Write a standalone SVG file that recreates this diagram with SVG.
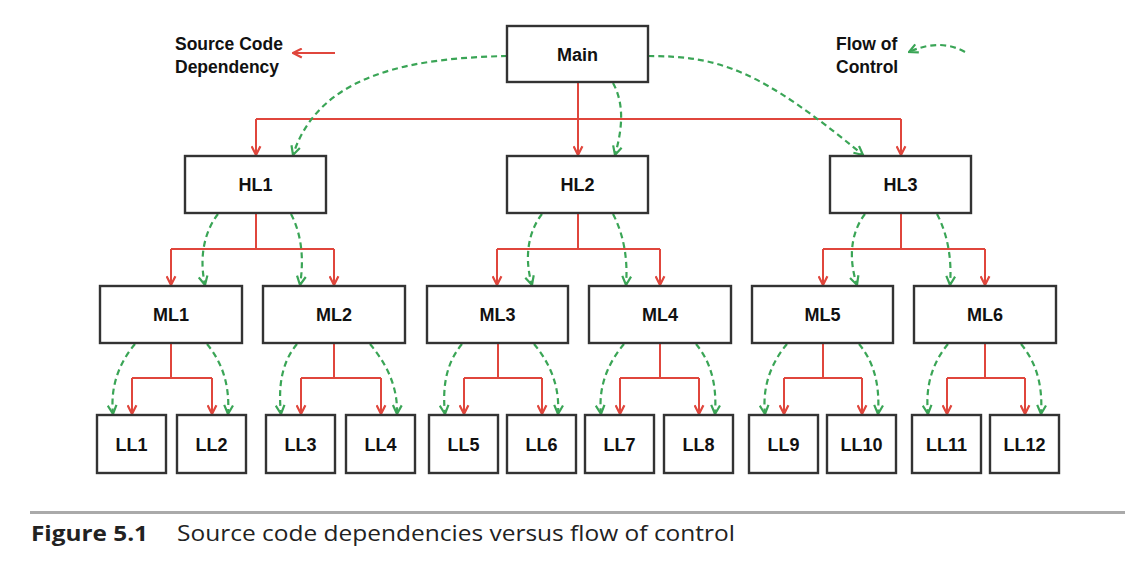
<svg xmlns="http://www.w3.org/2000/svg" width="1134" height="584" viewBox="0 0 1134 584">
<defs>
<style>
.box{fill:#fff;stroke:#333;stroke-width:2.4}
.lbl{font-family:"Liberation Sans",Arial,sans-serif;font-weight:bold;font-size:18px;fill:#111;text-anchor:middle}
.leg{font-family:"Liberation Sans",Arial,sans-serif;font-weight:bold;font-size:17.5px;fill:#111}
.dep{fill:none;stroke:#e0463c;stroke-width:2;marker-end:url(#ar)}
.depl{fill:none;stroke:#e0463c;stroke-width:2}
.flow{fill:none;stroke:#3aa556;stroke-width:2.2;stroke-dasharray:6 4;marker-end:url(#ag)}
.cap{font-family:"Open Sans",Lato,sans-serif;font-size:21px;fill:#222}
</style>
<marker id="ar" viewBox="0 0 10 10" refX="9" refY="5" markerWidth="11" markerHeight="11" markerUnits="userSpaceOnUse" orient="auto">
<path d="M1,1 L9,5 L1,9" fill="none" stroke="#e0463c" stroke-width="2"/>
</marker>
<marker id="ag" viewBox="0 0 10 10" refX="9" refY="5" markerWidth="11" markerHeight="11" markerUnits="userSpaceOnUse" orient="auto">
<path d="M1,1 L9,5 L1,9" fill="none" stroke="#3aa556" stroke-width="2"/>
</marker>
</defs>
<rect width="1134" height="584" fill="#fff"/>

<g id="connectors">
<path class="depl" d="M578,82 V119 M256,119 H901"/>
<path class="dep" d="M256,119 V155"/>
<path class="dep" d="M578,119 V155"/>
<path class="dep" d="M901,119 V155"/>
<path class="flow" d="M507,56 C420,58 320,70 293,155"/>
<path class="flow" d="M613,83 C625,105 622,130 615,155"/>
<path class="flow" d="M648,56 C720,56 760,70 863,155"/>

<path class="depl" d="M256,213 V249 M171,249 H334"/>
<path class="dep" d="M171,249 V285"/><path class="dep" d="M334,249 V285"/>
<path class="depl" d="M578,213 V249 M497,249 H660"/>
<path class="dep" d="M497,249 V285"/><path class="dep" d="M660,249 V285"/>
<path class="depl" d="M901,213 V249 M823,249 H985"/>
<path class="dep" d="M823,249 V285"/><path class="dep" d="M985,249 V285"/>
<path class="flow" d="M218,214 C204,232 199,258 205,285"/>
<path class="flow" d="M291,214 C302,235 304,260 300,285"/>
<path class="flow" d="M542,214 C528,232 524,258 532,285"/>
<path class="flow" d="M613,214 C624,235 628,260 626,285"/>
<path class="flow" d="M865,214 C851,232 848,258 857,285"/>
<path class="flow" d="M937,214 C948,235 952,260 950,285"/>

<path class="depl" d="M171,343 V378 M132,378 H212"/>
<path class="dep" d="M132,378 V414"/><path class="dep" d="M212,378 V414"/>
<path class="depl" d="M334,343 V378 M301,378 H381"/>
<path class="dep" d="M301,378 V414"/><path class="dep" d="M381,378 V414"/>
<path class="depl" d="M498,343 V378 M464,378 H542"/>
<path class="dep" d="M464,378 V414"/><path class="dep" d="M542,378 V414"/>
<path class="depl" d="M660,343 V378 M620,378 H699"/>
<path class="dep" d="M620,378 V414"/><path class="dep" d="M699,378 V414"/>
<path class="depl" d="M823,343 V378 M784,378 H862"/>
<path class="dep" d="M784,378 V414"/><path class="dep" d="M862,378 V414"/>
<path class="depl" d="M985,343 V378 M947,378 H1025"/>
<path class="dep" d="M947,378 V414"/><path class="dep" d="M1025,378 V414"/>
<path class="flow" d="M135,344 C120,362 110,385 113,414"/>
<path class="flow" d="M207,344 C222,362 230,385 228,414"/>
<path class="flow" d="M297,344 C282,362 278,385 281,414"/>
<path class="flow" d="M370,344 C385,362 398,385 397,414"/>
<path class="flow" d="M462,344 C447,362 442,385 445,414"/>
<path class="flow" d="M534,344 C549,362 560,385 558,414"/>
<path class="flow" d="M624,344 C609,362 598,385 601,414"/>
<path class="flow" d="M696,344 C711,362 717,385 715,414"/>
<path class="flow" d="M787,344 C772,362 762,385 765,414"/>
<path class="flow" d="M859,344 C874,362 880,385 878,414"/>
<path class="flow" d="M948,344 C933,362 925,385 928,414"/>
<path class="flow" d="M1021,344 C1036,362 1043,385 1041,414"/>

<path class="dep" d="M335,53 H293"/>
<path class="flow" d="M965,52 Q940,38 909,52"/>
</g>

<g id="legend">
<text class="leg" x="175" y="50">Source Code</text>
<text class="leg" x="175" y="73">Dependency</text>
<text class="leg" x="836" y="50">Flow of</text>
<text class="leg" x="836" y="73">Control</text>
</g>

<g id="Main"><rect class="box" x="507" y="26" width="141" height="56"/><text class="lbl" x="577.5" y="61">Main</text></g>
<g id="HL1"><rect class="box" x="185" y="156" width="141" height="57"/><text class="lbl" x="255.5" y="191">HL1</text></g>
<g id="HL2"><rect class="box" x="507" y="156" width="141" height="57"/><text class="lbl" x="577.5" y="191">HL2</text></g>
<g id="HL3"><rect class="box" x="830" y="156" width="141" height="57"/><text class="lbl" x="900.5" y="191">HL3</text></g>

<g id="ML1"><rect class="box" x="100" y="286" width="142" height="57"/><text class="lbl" x="171" y="321">ML1</text></g>
<g id="ML2"><rect class="box" x="263" y="286" width="142" height="57"/><text class="lbl" x="334" y="321">ML2</text></g>
<g id="ML3"><rect class="box" x="427" y="286" width="141" height="57"/><text class="lbl" x="497.5" y="321">ML3</text></g>
<g id="ML4"><rect class="box" x="589" y="286" width="142" height="57"/><text class="lbl" x="660" y="321">ML4</text></g>
<g id="ML5"><rect class="box" x="752" y="286" width="141" height="57"/><text class="lbl" x="822.5" y="321">ML5</text></g>
<g id="ML6"><rect class="box" x="914" y="286" width="142" height="57"/><text class="lbl" x="985" y="321">ML6</text></g>

<g id="LL1"><rect class="box" x="97" y="415" width="69" height="58"/><text class="lbl" x="131.5" y="451">LL1</text></g>
<g id="LL2"><rect class="box" x="177" y="415" width="69" height="58"/><text class="lbl" x="211.5" y="451">LL2</text></g>
<g id="LL3"><rect class="box" x="266" y="415" width="69" height="58"/><text class="lbl" x="300.5" y="451">LL3</text></g>
<g id="LL4"><rect class="box" x="346" y="415" width="69" height="58"/><text class="lbl" x="380.5" y="451">LL4</text></g>
<g id="LL5"><rect class="box" x="429" y="415" width="69" height="58"/><text class="lbl" x="463.5" y="451">LL5</text></g>
<g id="LL6"><rect class="box" x="507" y="415" width="69" height="58"/><text class="lbl" x="541.5" y="451">LL6</text></g>
<g id="LL7"><rect class="box" x="585" y="415" width="69" height="58"/><text class="lbl" x="619.5" y="451">LL7</text></g>
<g id="LL8"><rect class="box" x="664" y="415" width="69" height="58"/><text class="lbl" x="698.5" y="451">LL8</text></g>
<g id="LL9"><rect class="box" x="749" y="415" width="69" height="58"/><text class="lbl" x="783.5" y="451">LL9</text></g>
<g id="LL10"><rect class="box" x="827" y="415" width="69" height="58"/><text class="lbl" x="861.5" y="451">LL10</text></g>
<g id="LL11"><rect class="box" x="912" y="415" width="69" height="58"/><text class="lbl" x="946.5" y="451">LL11</text></g>
<g id="LL12"><rect class="box" x="990" y="415" width="69" height="58"/><text class="lbl" x="1024.5" y="451">LL12</text></g>

<g id="caption">
<line x1="30" y1="512.5" x2="1125" y2="512.5" stroke="#aaa" stroke-width="3"/>
<text class="cap" x="31" y="541" font-weight="bold" textLength="117" lengthAdjust="spacingAndGlyphs">Figure 5.1</text>
<text class="cap" x="177" y="541" textLength="558" lengthAdjust="spacingAndGlyphs">Source code dependencies versus flow of control</text>
</g>
</svg>
